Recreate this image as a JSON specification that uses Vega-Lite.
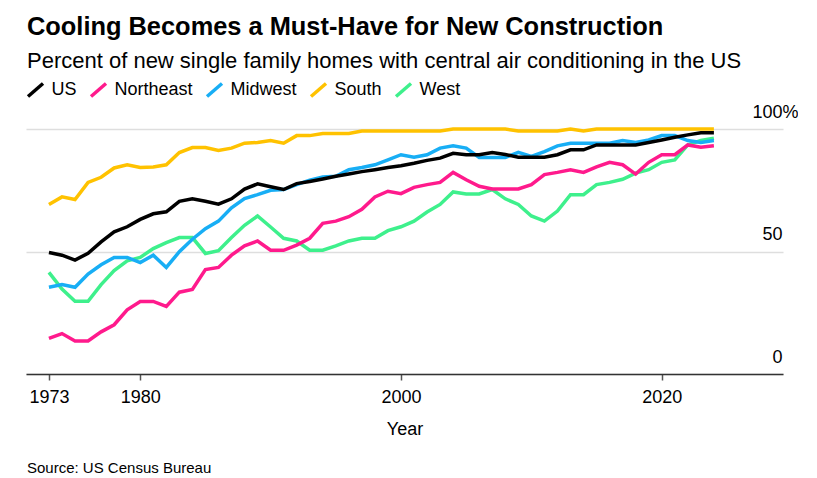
{
  "$schema": "https://vega.github.io/schema/vega-lite/v6.json",
  "background": "white",
  "padding": {"left": 26, "top": 14, "right": 0, "bottom": 0},
  "title": {
    "text": "Cooling Becomes a Must-Have for New Construction",
    "subtitle": "Percent of new single family homes with central air conditioning in the US",
    "anchor": "start",
    "dx": 1,
    "font": "Liberation Sans",
    "fontSize": 25.4,
    "fontWeight": "bold",
    "color": "#000000",
    "subtitleFont": "Liberation Sans",
    "subtitleFontSize": 22,
    "subtitleColor": "#000000",
    "subtitlePadding": 11,
    "offset": 8
  },
  "config": {"view": {"stroke": null}, "font": "Liberation Sans"},
  "vconcat": [
    {
      "width": 757,
      "height": 245,
      "title": {
        "text": "Source: US Census Bureau",
        "orient": "bottom",
        "anchor": "start",
        "dx": 1,
        "font": "Liberation Sans",
        "fontSize": 15,
        "fontWeight": "normal",
        "color": "#000000",
        "offset": 23
      },
      "data": {
        "values": [
          {"year": 1973, "US": 49.6, "Northeast": 14.5, "Midwest": 35.4, "South": 69.2, "West": 41.5},
          {"year": 1974, "US": 48.5, "Northeast": 16.5, "Midwest": 36.5, "South": 72.3, "West": 34.7},
          {"year": 1975, "US": 46.5, "Northeast": 13.5, "Midwest": 35.4, "South": 71.2, "West": 29.7},
          {"year": 1976, "US": 49.3, "Northeast": 13.5, "Midwest": 40.8, "South": 78.2, "West": 29.7},
          {"year": 1977, "US": 53.9, "Northeast": 17.2, "Midwest": 44.6, "South": 80.3, "West": 36.5},
          {"year": 1978, "US": 58.0, "Northeast": 20.1, "Midwest": 47.6, "South": 84.1, "West": 42.2},
          {"year": 1979, "US": 60.1, "Northeast": 26.2, "Midwest": 47.6, "South": 85.4, "West": 46.2},
          {"year": 1980, "US": 63.1, "Northeast": 29.6, "Midwest": 45.5, "South": 84.3, "West": 47.6},
          {"year": 1981, "US": 65.4, "Northeast": 29.6, "Midwest": 48.5, "South": 84.5, "West": 51.2},
          {"year": 1982, "US": 66.2, "Northeast": 27.6, "Midwest": 43.5, "South": 85.4, "West": 53.6},
          {"year": 1983, "US": 70.5, "Northeast": 33.4, "Midwest": 49.9, "South": 90.4, "West": 55.7},
          {"year": 1984, "US": 71.5, "Northeast": 34.5, "Midwest": 55.0, "South": 92.4, "West": 55.7},
          {"year": 1985, "US": 70.5, "Northeast": 42.6, "Midwest": 59.3, "South": 92.4, "West": 49.2},
          {"year": 1986, "US": 69.3, "Northeast": 43.5, "Midwest": 62.4, "South": 91.2, "West": 50.3},
          {"year": 1987, "US": 71.5, "Northeast": 48.5, "Midwest": 67.8, "South": 92.2, "West": 55.7},
          {"year": 1988, "US": 75.5, "Northeast": 52.3, "Midwest": 71.6, "South": 94.2, "West": 60.7},
          {"year": 1989, "US": 77.6, "Northeast": 54.3, "Midwest": 73.2, "South": 94.5, "West": 64.5},
          {"year": 1990, "US": 76.4, "Northeast": 50.5, "Midwest": 75.0, "South": 95.3, "West": 60.0},
          {"year": 1991, "US": 75.3, "Northeast": 50.5, "Midwest": 75.3, "South": 94.2, "West": 55.4},
          {"year": 1992, "US": 77.7, "Northeast": 52.6, "Midwest": 77.3, "South": 97.3, "West": 54.3},
          {"year": 1993, "US": 78.6, "Northeast": 55.4, "Midwest": 79.1, "South": 97.3, "West": 50.5},
          {"year": 1994, "US": 79.6, "Northeast": 61.5, "Midwest": 80.4, "South": 98.2, "West": 50.5},
          {"year": 1995, "US": 80.7, "Northeast": 62.4, "Midwest": 80.7, "South": 98.2, "West": 52.3},
          {"year": 1996, "US": 81.6, "Northeast": 64.2, "Midwest": 83.4, "South": 98.2, "West": 54.3},
          {"year": 1997, "US": 82.6, "Northeast": 67.2, "Midwest": 84.3, "South": 99.2, "West": 55.4},
          {"year": 1998, "US": 83.4, "Northeast": 72.3, "Midwest": 85.4, "South": 99.2, "West": 55.4},
          {"year": 1999, "US": 84.3, "Northeast": 74.6, "Midwest": 87.4, "South": 99.2, "West": 58.5},
          {"year": 2000, "US": 85.0, "Northeast": 73.6, "Midwest": 89.5, "South": 99.2, "West": 60.1},
          {"year": 2001, "US": 86.0, "Northeast": 76.2, "Midwest": 88.5, "South": 99.2, "West": 62.4},
          {"year": 2002, "US": 87.2, "Northeast": 77.3, "Midwest": 89.5, "South": 99.2, "West": 66.1},
          {"year": 2003, "US": 88.1, "Northeast": 78.2, "Midwest": 92.2, "South": 99.2, "West": 69.2},
          {"year": 2004, "US": 90.1, "Northeast": 82.3, "Midwest": 93.2, "South": 100, "West": 74.3},
          {"year": 2005, "US": 89.5, "Northeast": 79.3, "Midwest": 92.2, "South": 100, "West": 73.5},
          {"year": 2006, "US": 89.5, "Northeast": 76.6, "Midwest": 88.4, "South": 100, "West": 73.5},
          {"year": 2007, "US": 90.4, "Northeast": 75.5, "Midwest": 88.4, "South": 100, "West": 75.3},
          {"year": 2008, "US": 89.6, "Northeast": 75.5, "Midwest": 88.4, "South": 100, "West": 71.5},
          {"year": 2009, "US": 88.5, "Northeast": 75.5, "Midwest": 90.5, "South": 99.2, "West": 69.2},
          {"year": 2010, "US": 88.5, "Northeast": 77.3, "Midwest": 88.8, "South": 99.2, "West": 64.5},
          {"year": 2011, "US": 88.5, "Northeast": 81.4, "Midwest": 90.8, "South": 99.2, "West": 62.4},
          {"year": 2012, "US": 89.5, "Northeast": 82.3, "Midwest": 93.1, "South": 99.2, "West": 66.5},
          {"year": 2013, "US": 91.5, "Northeast": 83.4, "Midwest": 94.2, "South": 100, "West": 73.2},
          {"year": 2014, "US": 91.5, "Northeast": 82.3, "Midwest": 94.2, "South": 99.2, "West": 73.2},
          {"year": 2015, "US": 93.5, "Northeast": 84.5, "Midwest": 94.2, "South": 100, "West": 77.3},
          {"year": 2016, "US": 93.5, "Northeast": 86.4, "Midwest": 94.2, "South": 100, "West": 78.2},
          {"year": 2017, "US": 93.5, "Northeast": 85.4, "Midwest": 95.3, "South": 100, "West": 79.5},
          {"year": 2018, "US": 93.5, "Northeast": 81.6, "Midwest": 94.5, "South": 100, "West": 82.0},
          {"year": 2019, "US": 94.5, "Northeast": 86.4, "Midwest": 95.5, "South": 100, "West": 83.4},
          {"year": 2020, "US": 95.5, "Northeast": 89.5, "Midwest": 97.3, "South": 100, "West": 86.4},
          {"year": 2021, "US": 96.6, "Northeast": 89.5, "Midwest": 97.3, "South": 100, "West": 87.4},
          {"year": 2022, "US": 97.6, "Northeast": 93.5, "Midwest": 95.3, "South": 100, "West": 93.5},
          {"year": 2023, "US": 98.5, "Northeast": 92.6, "Midwest": 94.5, "South": 100, "West": 95.3},
          {"year": 2024, "US": 98.5, "Northeast": 93.2, "Midwest": 95.3, "South": 100, "West": 96.2}
        ]
      },
      "transform": [
        {"fold": ["West", "South", "Midwest", "Northeast", "US"], "as": ["region", "pct"]}
      ],
      "mark": {"type": "line", "strokeWidth": 3.5, "clip": false, "strokeJoin": "miter"},
      "encoding": {
        "x": {
          "field": "year",
          "type": "quantitative",
          "scale": {"domain": [1971.24, 2029.3], "nice": false, "zero": false},
          "axis": {
            "values": [1973, 1980, 2000, 2020],
            "format": "d",
            "grid": false,
            "labelFlush": false,
            "domainColor": "#333333",
            "domainWidth": 1.5,
            "tickColor": "#555555",
            "tickWidth": 1.5,
            "tickSize": 6,
            "labelFont": "Liberation Sans",
            "labelFontSize": 18,
            "labelColor": "#000000",
            "labelPadding": 8,
            "title": "Year",
            "titleFont": "Liberation Sans",
            "titleFontSize": 18,
            "titleFontWeight": "normal",
            "titleColor": "#000000",
            "titlePadding": 14,
            "zindex": 1
          }
        },
        "y": {
          "field": "pct",
          "type": "quantitative",
          "scale": {"domain": [0, 100], "nice": false},
          "axis": {
            "orient": "right",
            "values": [0, 50, 100],
            "labelExpr": "datum.value == 100 ? '100%' : datum.label",
            "grid": true,
            "gridColor": "#dedede",
            "gridWidth": 1.5,
            "domain": false,
            "ticks": false,
            "tickSize": 0,
            "labelAlign": "right",
            "labelBaseline": "alphabetic",
            "labelOffset": -12,
            "labelPadding": {"condition": {"test": "datum.value == 100", "value": 15}, "value": -1},
            "labelFont": "Liberation Sans",
            "labelFontSize": 18,
            "labelColor": "#000000",
            "title": null
          }
        },
        "color": {
          "field": "region",
          "type": "nominal",
          "scale": {
            "domain": ["US", "Northeast", "Midwest", "South", "West"],
            "range": ["#000000", "#ff1a8c", "#18aef5", "#ffc200", "#3ef08c"]
          },
          "legend": {
            "orient": "top",
            "direction": "horizontal",
            "title": null,
            "symbolType": "M-1,0.87L1,-0.87",
            "symbolSize": 225,
            "symbolStrokeWidth": 3.5,
            "labelFont": "Liberation Sans",
            "labelFontSize": 18,
            "labelColor": "#000000",
            "labelOffset": 6.5,
            "columnPadding": 7,
            "offset": -1,
            "padding": 0
          }
        }
      }
    }
  ]
}
